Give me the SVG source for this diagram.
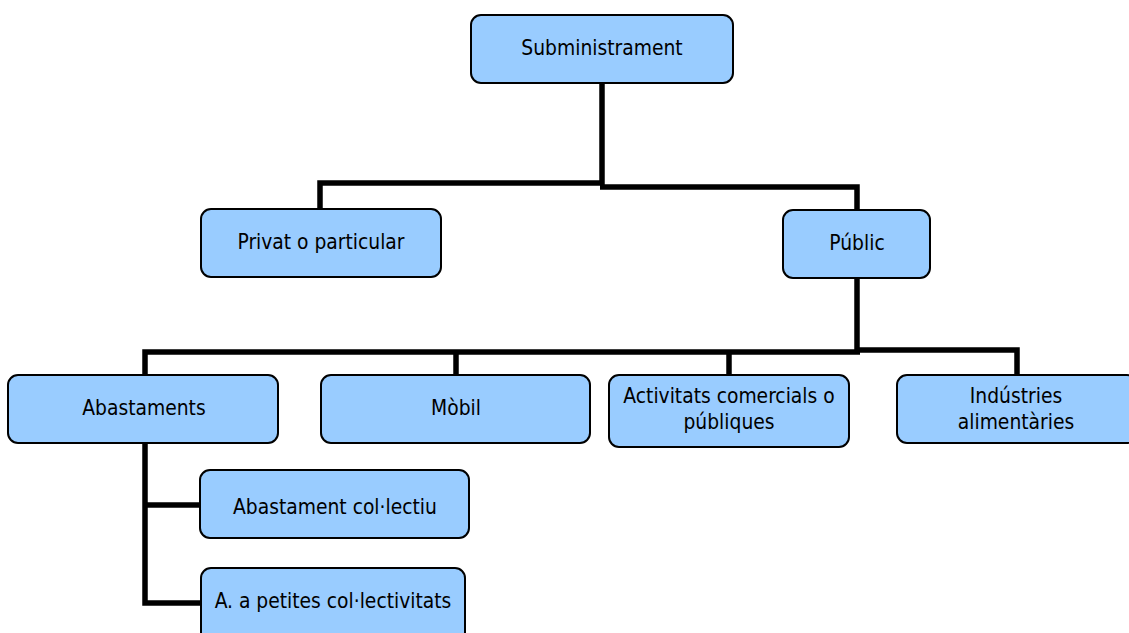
<svg xmlns="http://www.w3.org/2000/svg" width="1129" height="633" viewBox="0 0 1129 633">
<style>
.box{fill:#99ccff;stroke:#000;stroke-width:2}
.lbl{font-family:"DejaVu Sans Condensed","DejaVu Sans",Verdana,sans-serif;font-stretch:condensed;font-size:20.8px;fill:#000;text-anchor:middle}
.con{fill:none;stroke:#000;stroke-width:5.5}
</style>
<rect width="1129" height="633" fill="#fff"/>
<g id="connectors">
<path class="con" d="M602,83 V185"/>
<path class="con" d="M320,209 V183 H604"/>
<path class="con" d="M600,187 H857 V210"/>
<path class="con" d="M857,278 V350"/>
<path class="con" d="M145,375 V352 H860"/>
<path class="con" d="M456,352 V375"/>
<path class="con" d="M729,352 V375"/>
<path class="con" d="M855,350 H1017 V375"/>
<path class="con" d="M145,443 V603 H201"/>
<path class="con" d="M145,505 H200"/>
</g>
<g id="subministrament"><rect class="box" x="471" y="15" width="262" height="68" rx="10"/><text class="lbl" x="602" y="55">Subministrament</text></g>
<g id="privat"><rect class="box" x="201" y="209" width="240" height="68" rx="10"/><text class="lbl" x="321" y="249">Privat o particular</text></g>
<g id="public"><rect class="box" x="783" y="210" width="147" height="68" rx="10"/><text class="lbl" x="857" y="250">Públic</text></g>
<g id="abastaments"><rect class="box" x="8" y="375" width="270" height="68" rx="10"/><text class="lbl" x="144" y="415">Abastaments</text></g>
<g id="mobil"><rect class="box" x="321" y="375" width="269" height="68" rx="10"/><text class="lbl" x="456" y="415">Mòbil</text></g>
<g id="activitats"><rect class="box" x="609" y="375" width="240" height="72" rx="10"/><text class="lbl" x="729" y="403">Activitats comercials o</text><text class="lbl" x="729" y="429">públiques</text></g>
<g id="industries"><rect class="box" x="897" y="375" width="240" height="68" rx="10"/><text class="lbl" x="1016" y="403">Indústries</text><text class="lbl" x="1016" y="429">alimentàries</text></g>
<g id="abastament-collectiu"><rect class="box" x="200" y="470" width="269" height="68" rx="10"/><text class="lbl" x="335" y="514">Abastament col·lectiu</text></g>
<g id="petites"><rect class="box" x="201" y="568" width="264" height="75" rx="10"/><text class="lbl" x="333" y="608">A. a petites col·lectivitats</text></g>
</svg>
